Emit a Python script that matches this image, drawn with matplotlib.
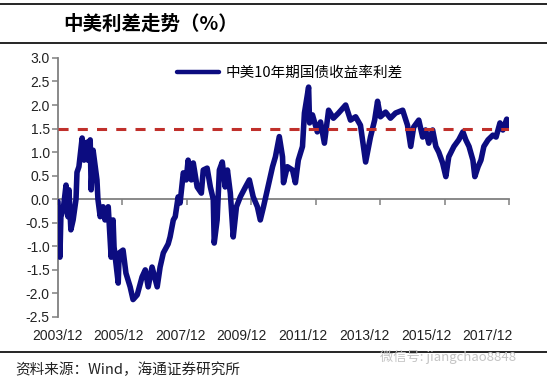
import numpy as np
import matplotlib
matplotlib.use("Agg")
import matplotlib.pyplot as plt
import matplotlib.transforms as mtransforms

plt.rcParams['font.family'] = ['Liberation Sans', 'Noto Sans CJK SC']

# 中美10年期国债收益率利差 (decimal year, %)
dates = [2003.92, 2003.95, 2003.98, 2004.01, 2004.08, 2004.17, 2004.23, 2004.26, 2004.32, 2004.39,
         2004.48, 2004.51, 2004.57, 2004.67, 2004.73, 2004.82, 2004.85, 2004.92, 2004.95, 2005.01,
         2005.13, 2005.16, 2005.23, 2005.32, 2005.38, 2005.48, 2005.57, 2005.63, 2005.66, 2005.79,
         2005.82, 2005.94, 2006.03, 2006.16, 2006.25, 2006.38, 2006.53, 2006.63, 2006.72, 2006.84,
         2007.00, 2007.09, 2007.19, 2007.34, 2007.40, 2007.50, 2007.56, 2007.65, 2007.71, 2007.81,
         2007.90, 2007.96, 2008.06, 2008.12, 2008.24, 2008.37, 2008.43, 2008.55, 2008.65, 2008.74,
         2008.77, 2008.86, 2008.93, 2009.02, 2009.11, 2009.18, 2009.27, 2009.36, 2009.46, 2009.58,
         2009.74, 2009.86, 2009.98, 2010.11, 2010.20, 2010.30, 2010.42, 2010.58, 2010.67, 2010.73,
         2010.79, 2010.89, 2010.92, 2011.04, 2011.20, 2011.29, 2011.38, 2011.51, 2011.57, 2011.70,
         2011.73, 2011.82, 2011.97, 2012.07, 2012.19, 2012.32, 2012.47, 2012.63, 2012.85, 2013.00,
         2013.16, 2013.31, 2013.47, 2013.62, 2013.75, 2013.84, 2013.93, 2014.09, 2014.24, 2014.40,
         2014.62, 2014.77, 2014.87, 2014.96, 2015.12, 2015.24, 2015.33, 2015.43, 2015.55, 2015.65,
         2015.74, 2015.86, 2015.96, 2016.05, 2016.21, 2016.36, 2016.49, 2016.58, 2016.68, 2016.80,
         2016.86, 2016.96, 2017.05, 2017.14, 2017.27, 2017.42, 2017.52, 2017.64, 2017.73, 2017.85,
         2017.92]
spread = [-0.05, -0.60, -1.23, -0.37, -0.23, 0.30, -0.37, 0.20, -0.65, -0.44,
          0.00, 0.57, 0.69, 1.30, 0.83, 1.21, 0.83, 1.26, 0.20, 1.04,
          0.41, 0.00, -0.37, -0.16, -0.44, -0.16, -1.23, -0.44, -1.01, -1.78,
          -1.14, -1.08, -1.57, -1.86, -2.13, -2.03, -1.65, -1.50, -1.86, -1.44,
          -1.86, -1.44, -1.14, -0.95, -0.80, -0.44, -0.37, 0.05, -0.08, 0.56,
          0.41, 0.83, 0.41, 0.77, 0.26, 0.13, 0.62, 0.66, 0.26, 0.00,
          -0.93, -0.44, 0.62, 0.79, 0.26, 0.62, 0.13, -0.80, -0.16, 0.05,
          0.26, 0.41, 0.05, -0.16, -0.44, -0.16, 0.20, 0.69, 0.90, 1.12,
          1.33, 0.90, 0.35, 0.69, 0.62, 0.35, 0.83, 1.12, 1.83, 2.38,
          1.62, 1.79, 1.43, 1.64, 1.19, 1.89, 1.72, 1.83, 2.00, 1.68,
          1.75, 1.57, 0.79, 1.32, 1.68, 2.08, 1.75, 1.85, 1.72, 1.83,
          1.89, 1.57, 1.12, 1.53, 1.68, 1.32, 1.47, 1.19, 1.47, 1.12,
          1.00, 0.77, 0.48, 0.90, 1.12, 1.26, 1.43, 1.26, 1.12, 0.83,
          0.48, 0.69, 0.83, 1.12, 1.26, 1.36, 1.32, 1.62, 1.47, 1.70,
          1.53]
ref_level = 1.5
tick_years = [2003.92, 2005.92, 2007.92, 2009.92, 2011.92, 2013.92, 2015.92, 2017.92]
tick_labels = ['2003/12', '2005/12', '2007/12', '2009/12', '2011/12', '2013/12', '2015/12', '2017/12']
yticks = [-2.5, -2.0, -1.5, -1.0, -0.5, 0.0, 0.5, 1.0, 1.5, 2.0, 2.5, 3.0]

cjk = ['Noto Sans CJK SC', 'DejaVu Sans']
grey = '#808080'
navy = '#0c0c80'

fig = plt.figure(figsize=(5.47, 3.81), dpi=100)
ax = fig.add_axes([0.106, 0.168, 0.8245, 0.68])

ax.plot(dates, spread, color=navy, lw=4.0, solid_joinstyle='round', solid_capstyle='round',
        label='中美10年期国债收益率利差', zorder=3)
ax.plot([tick_years[0], tick_years[-1]], [ref_level, ref_level], color='#c0302b',
        lw=2.2, dashes=(3.3, 3.0), zorder=4)

ax.set_xlim(tick_years[0], tick_years[-1])
ax.set_ylim(-2.5, 3.0)
ax.set_yticks(yticks)
ax.set_yticklabels(['%.1f' % v for v in yticks])

for s in ['top', 'right']:
    ax.spines[s].set_visible(False)
ax.spines['left'].set_color(grey)
ax.spines['left'].set_linewidth(1.3)
ax.spines['bottom'].set_position(('data', 0))
ax.spines['bottom'].set_color(grey)
ax.spines['bottom'].set_linewidth(1.3)
ax.spines['bottom'].set_zorder(2)

ax.set_xticks(tick_years)
ax.tick_params(axis='x', direction='out', length=4, width=1.1, color=grey, labelbottom=False)
ax.tick_params(axis='y', direction='out', length=4, width=1.1, color=grey,
               labelsize=10, pad=2, labelcolor='#222222')

# x labels sit under the plot, spaced like the original
trans = mtransforms.blended_transform_factory(ax.transAxes, ax.transAxes)
for frac, lab in zip(np.linspace(-0.002, 0.953, len(tick_labels)), tick_labels):
    ax.text(frac, -0.072, lab, transform=trans, ha='center', va='center',
            fontsize=10, color='#222222')

leg = ax.legend(loc='upper left', bbox_to_anchor=(0.235, 1.02), frameon=False,
                handlelength=2.9, handletextpad=0.4, prop={'family': cjk, 'size': 10.5})
for line in leg.get_lines():
    line.set_linewidth(3.2)

# header / footer
fig.add_artist(plt.Line2D([0, 1], [1 - 4 / 381, 1 - 4 / 381], color='black', lw=1.2))
fig.add_artist(plt.Line2D([0, 1], [1 - 43 / 381, 1 - 43 / 381], color='black', lw=1.2))
fig.add_artist(plt.Line2D([0, 1], [1 - 352 / 381, 1 - 352 / 381], color='black', lw=1.2))
fig.text(63 / 547, 1 - 24 / 381, '中美利差走势（%）', family=cjk, fontsize=14,
         fontweight='bold', va='center', ha='left')
fig.text(15 / 547, 1 - 370 / 381, '资料来源：Wind，海通证券研究所', family=cjk,
         fontsize=10.5, va='center', ha='left', color='#222222')
fig.text(380 / 547, 1 - 357 / 381, '微信号: jiangchao8848', family=cjk,
         fontsize=9.5, va='center', ha='left', color='#c4c4c4')

fig.savefig('out.png', dpi=100)
